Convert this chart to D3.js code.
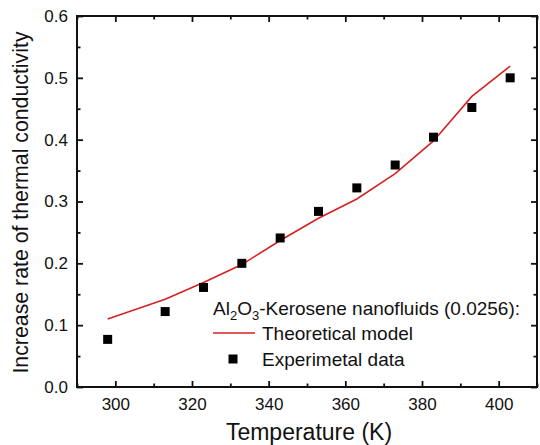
<!DOCTYPE html>
<html><head><meta charset="utf-8">
<script src="https://cdn.jsdelivr.net/npm/d3@7"></script>
<style>body{margin:0;background:#fff;} text{font-family:Arial,"Liberation Sans",sans-serif;fill:#111;}</style>
</head><body>
<svg id="c" width="540" height="445"></svg>
<script>
const temps = [298, 313, 323, 333, 343, 353, 363, 373, 383, 393, 403];
const theoretical = [0.110, 0.142, 0.169, 0.198, 0.237, 0.273, 0.304, 0.345, 0.398, 0.470, 0.519];
const experimental = [0.077, 0.122, 0.161, 0.200, 0.241, 0.284, 0.322, 0.359, 0.404, 0.452, 0.500];
const xTicks = [300, 320, 340, 360, 380, 400];
const yTicks = [0.0, 0.1, 0.2, 0.3, 0.4, 0.5, 0.6];

const svg = d3.select("#c");
const L = 77, R = 537, T = 16, B = 387;
const x = d3.scaleLinear().domain([290, 410]).range([L, R]);
const y = d3.scaleLinear().domain([0, 0.6]).range([B, T]);
const FONT = "Arial, 'Liberation Sans', sans-serif";

const g = svg.append("g");
const major = 6, minor = 3.5;
function ticks(axisGen, transform){
  const a = g.append("g").attr("transform", transform).call(axisGen);
  a.select(".domain").remove();
  a.selectAll("line").attr("stroke", "#111").attr("stroke-width", 1.8);
  return a;
}
const xMinor = d3.range(290, 411, 10).filter(v => v % 20 !== 0);
const yMinor = d3.range(0.05, 0.6, 0.1);
ticks(d3.axisTop(x).tickValues(xTicks).tickSize(major).tickFormat(""), `translate(0,${B})`);
ticks(d3.axisTop(x).tickValues(xMinor).tickSize(minor).tickFormat(""), `translate(0,${B})`);
ticks(d3.axisBottom(x).tickValues(xTicks).tickSize(major).tickFormat(""), `translate(0,${T})`);
ticks(d3.axisBottom(x).tickValues(xMinor).tickSize(minor).tickFormat(""), `translate(0,${T})`);
ticks(d3.axisRight(y).tickValues(yTicks).tickSize(major).tickFormat(""), `translate(${L},0)`);
ticks(d3.axisRight(y).tickValues(yMinor).tickSize(minor).tickFormat(""), `translate(${L},0)`);
ticks(d3.axisLeft(y).tickValues(yTicks).tickSize(major).tickFormat(""), `translate(${R},0)`);
ticks(d3.axisLeft(y).tickValues(yMinor).tickSize(minor).tickFormat(""), `translate(${R},0)`);

const xl = g.append("g").attr("transform", `translate(0,${B})`)
  .call(d3.axisBottom(x).tickValues(xTicks).tickSize(0).tickPadding(11).tickFormat(d3.format("d")));
xl.select(".domain").remove();
xl.selectAll("text").attr("font-size", 17).attr("fill", "#111").attr("font-family", FONT);
const yl = g.append("g").attr("transform", `translate(${L},0)`)
  .call(d3.axisLeft(y).tickValues(yTicks).tickSize(0).tickPadding(9).tickFormat(d3.format(".1f")));
yl.select(".domain").remove();
yl.selectAll("text").attr("font-size", 17).attr("fill", "#111").attr("font-family", FONT);

g.append("rect").attr("x", L).attr("y", T).attr("width", R - L).attr("height", B - T)
  .attr("fill", "none").attr("stroke", "#111").attr("stroke-width", 2);

const line = d3.line().x((d, i) => x(temps[i])).y(d => y(d));
g.append("path").datum(theoretical).attr("d", line)
  .attr("fill", "none").attr("stroke", "#d42222").attr("stroke-width", 1.6);

const s = 9;
g.selectAll("rect.pt").data(experimental).enter().append("rect").attr("class", "pt")
  .attr("x", (d, i) => x(temps[i]) - s / 2).attr("y", d => y(d) - s / 2)
  .attr("width", s).attr("height", s).attr("fill", "#000");

svg.append("text").attr("x", 309).attr("y", 440).attr("text-anchor", "middle")
  .attr("font-size", 23).text("Temperature (K)");
svg.append("text").attr("transform", `translate(28,${(T + B) / 2 + 1}) rotate(-90)`)
  .attr("text-anchor", "middle").attr("font-size", 21.3).text("Increase rate of thermal conductivity");

const lg = svg.append("g");
const t = lg.append("text").attr("x", 213).attr("y", 315).attr("font-size", 19);
t.append("tspan").text("Al");
t.append("tspan").attr("font-size", 13).attr("dy", 5).text("2");
t.append("tspan").attr("dy", -5).text("O");
t.append("tspan").attr("font-size", 13).attr("dy", 5).text("3");
t.append("tspan").attr("dy", -5).text("-Kerosene nanofluids (0.0256):");
lg.append("line").attr("x1", 213).attr("x2", 255).attr("y1", 333).attr("y2", 333)
  .attr("stroke", "#d42222").attr("stroke-width", 1.6);
lg.append("text").attr("x", 262).attr("y", 340).attr("font-size", 19).text("Theoretical model");
lg.append("rect").attr("x", 233 - s / 2).attr("y", 359 - s / 2).attr("width", s).attr("height", s).attr("fill", "#000");
lg.append("text").attr("x", 262).attr("y", 366).attr("font-size", 19).text("Experimetal data");
</script>
</body></html>
